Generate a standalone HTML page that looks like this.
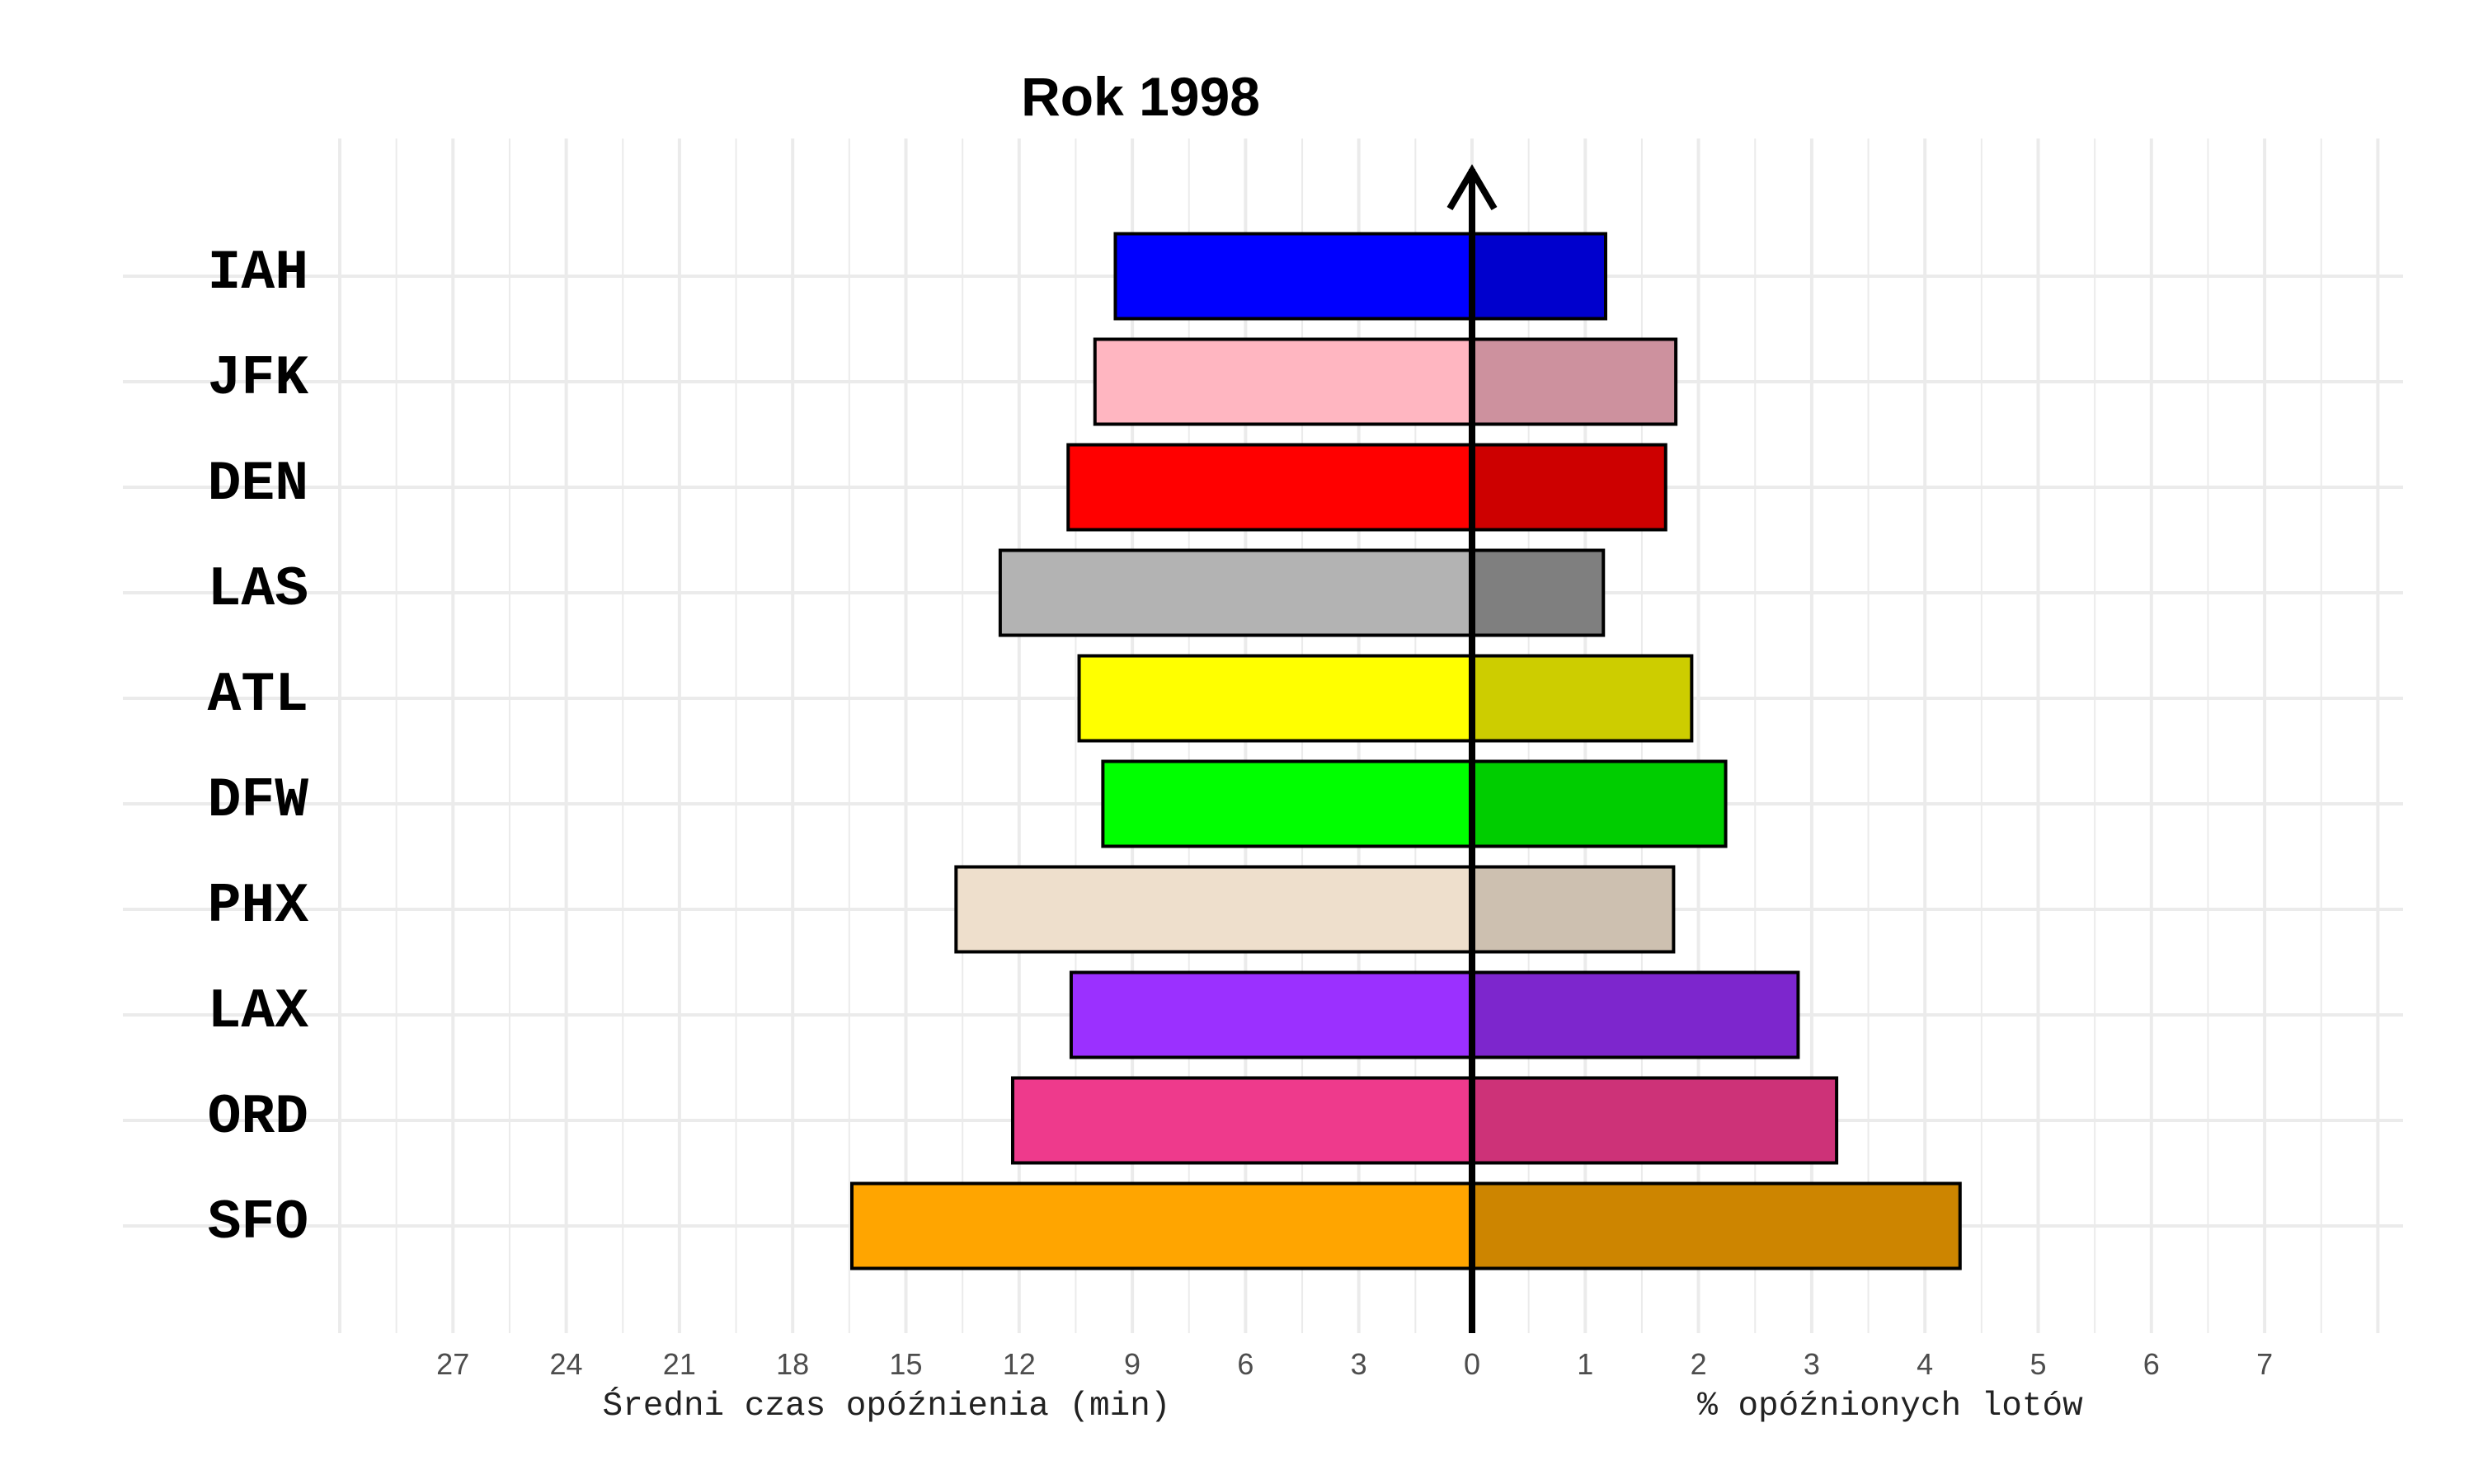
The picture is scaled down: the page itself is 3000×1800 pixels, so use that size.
<!DOCTYPE html>
<html><head><meta charset="utf-8"><style>
html,body{margin:0;padding:0;background:#fff;}
svg{display:block;}
</style></head><body>
<svg id="chart" width="3000" height="1800" viewBox="0 0 3000 1800" xmlns="http://www.w3.org/2000/svg">
<rect width="3000" height="1800" fill="#fff"/>
<g id="grid"></g>
<g id="bars"></g>
<g id="labels"></g>
<text x="1383" y="140" text-anchor="middle" font-family="Liberation Sans, sans-serif" font-weight="bold" font-size="66">Rok 1998</text>
<text x="1075" y="1716" text-anchor="middle" font-family="Liberation Mono, monospace" font-size="41" fill="#222">Średni czas opóźnienia (min)</text>
<text x="2292" y="1716" text-anchor="middle" font-family="Liberation Mono, monospace" font-size="41" fill="#222">% opóźnionych lotów</text>
</svg>
<script>
const airports = ["IAH","JFK","DEN","LAS","ATL","DFW","PHX","LAX","ORD","SFO"];
const delayMinutes = [9.45,9.99,10.70,12.50,10.41,9.78,13.67,10.62,12.17,16.43];
const delayedPct = [1.18,1.80,1.71,1.16,1.94,2.24,1.78,2.88,3.22,4.31];
const leftColors = ["#0000FF","#FFB6C1","#FF0000","#B3B3B3","#FFFF00","#00FF00","#EEDFCC","#9B30FF","#EE3A8C","#FFA500"];
const rightColors = ["#0000CD","#CD919E","#CD0000","#7F7F7F","#CDCD00","#00CD00","#CDC0B0","#7D26CD","#CD3278","#CD8500"];
const leftTicks = [27,24,21,18,15,12,9,6,3,0];
const rightTicks = [1,2,3,4,5,6,7];

const NS="http://www.w3.org/2000/svg";
const X0=1785, PX_MIN=45.77, PX_PCT=137.3;
const xL=v=>X0-v*PX_MIN, xR=p=>X0+p*PX_PCT;
const yRow=i=>335+i*128.0;
const BH=103;
function mk(tag,attrs,parent){const e=document.createElementNS(NS,tag);for(const k in attrs)e.setAttribute(k,attrs[k]);parent.appendChild(e);return e;}
const grid=document.getElementById('grid'), bars=document.getElementById('bars'), labels=document.getElementById('labels');

for(let k=-20;k<=16;k++){
  const x=X0+k*PX_PCT/2;
  const l=mk('line',{x1:x,x2:x,y1:168,y2:1617,stroke:'#ebebeb','stroke-width':k%2===0?4:2},grid);
  
  
}
airports.forEach((a,i)=>{
  const l=mk('line',{x1:149,x2:2914,y1:yRow(i),y2:yRow(i),stroke:'#ebebeb','stroke-width':4},grid);
  
  
});

airports.forEach((a,i)=>{
  const y=yRow(i)-BH/2;
  const lb=mk('rect',{x:xL(delayMinutes[i]),y:y,width:X0-xL(delayMinutes[i]),height:BH,fill:leftColors[i],stroke:'#000','stroke-width':4},bars);
  
  
  const rb=mk('rect',{x:X0,y:y,width:xR(delayedPct[i])-X0,height:BH,fill:rightColors[i],stroke:'#000','stroke-width':4},bars);
  
  
  const t=mk('text',{x:374,y:yRow(i)+14,'text-anchor':'end','font-family':'Liberation Mono, monospace','font-weight':'bold','font-size':68},labels);
  t.textContent=a;
  
  
});

const ax=mk('line',{x1:X0,x2:X0,y1:1617,y2:205,stroke:'#000','stroke-width':8},bars);


const ah=mk('polyline',{points:`${X0-27},${253} ${X0},${207} ${X0+27},${253}`,fill:'none',stroke:'#000','stroke-width':8},bars);



leftTicks.forEach(v=>{
  const t=mk('text',{x:xL(v),y:1667,'text-anchor':'middle','font-family':'Liberation Sans, sans-serif','font-size':36,fill:'#4d4d4d'},labels);
  t.textContent=v;
  
  
});
rightTicks.forEach(v=>{
  const t=mk('text',{x:xR(v),y:1667,'text-anchor':'middle','font-family':'Liberation Sans, sans-serif','font-size':36,fill:'#4d4d4d'},labels);
  t.textContent=v;
  
  
});
</script>
</body></html>
